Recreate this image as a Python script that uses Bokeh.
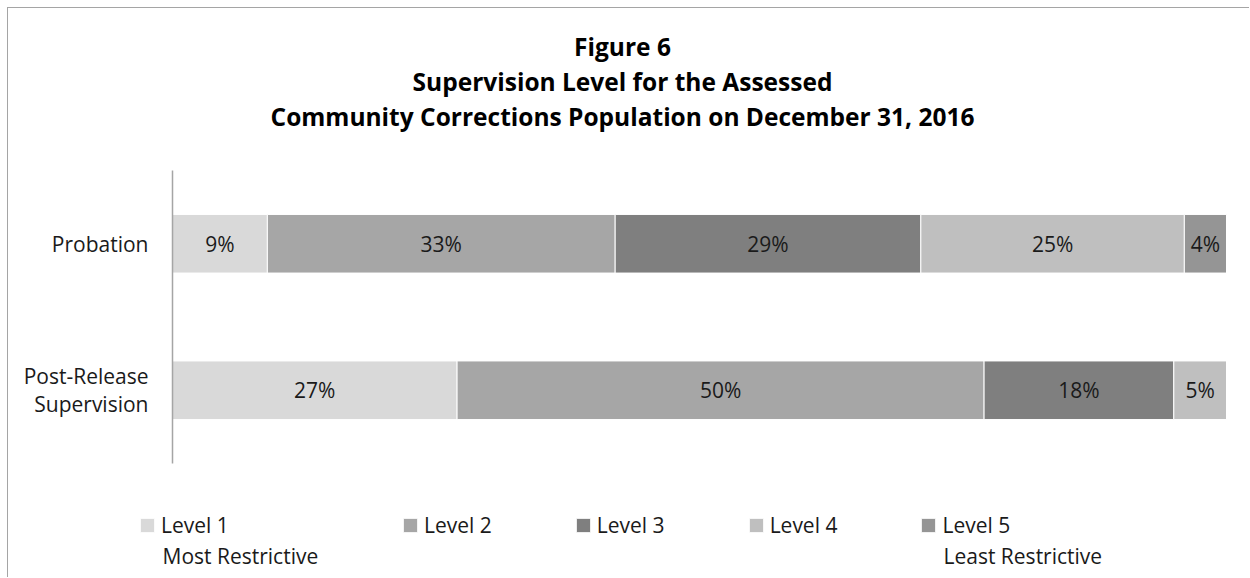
from bokeh.plotting import figure
from bokeh.models import (Range1d, Legend, LegendItem, Label, LinearAxis,
                          FixedTicker, ColumnDataSource)
from bokeh.embed import file_html
from bokeh.resources import INLINE
from bokeh.core.properties import value

# ---- data ----
groups = ["Post-Release\nSupervision", "Probation"]          # bottom -> top
levels = ["Level 1", "Level 2", "Level 3", "Level 4", "Level 5"]
level_notes = {"Level 1": "Most Restrictive", "Level 5": "Least Restrictive"}
post_release = [27, 50, 18, 5, 0]
probation = [9, 33, 29, 25, 4]
colors = ["#d9d9d9", "#a6a6a6", "#7f7f7f", "#bfbfbf", "#959595"]
title_lines = ["Figure 6",
               "Supervision Level for the Assessed",
               "Community Corrections Population on December 31, 2016"]

FONT = "Open Sans"
W, H = 1242, 570
AXIS_X, BAR_END = 164, 1218          # pixel columns of value 0 and 100
AXIS_TOP, AXIS_BOTTOM = 162, 455     # pixel rows of the category band
LEG_ROW = 517                        # pixel row of the legend's first line
LEG_ROW2 = 547                       # pixel row of the legend's second line

ncat = len(groups)
ypos = [i + 0.5 for i in range(ncat)]

pxu_x = (BAR_END - AXIS_X) / 100.0
pxu_y = (AXIS_BOTTOM - AXIS_TOP) / ncat
x_range = Range1d(-AXIS_X / pxu_x, 100 + (W - BAR_END) / pxu_x)
y_range = Range1d(-(H - AXIS_BOTTOM) / pxu_y, ncat + AXIS_TOP / pxu_y)

data = {"y": ypos}
for i, lv in enumerate(levels):
    data[lv] = [post_release[i], probation[i]]
source = ColumnDataSource(data)

p = figure(width=W, height=H, x_range=x_range, y_range=y_range,
           x_axis_location=None, y_axis_location=None,
           output_backend="svg", toolbar_location=None,
           min_border=0, min_border_left=0, min_border_right=0,
           min_border_top=0, min_border_bottom=0)
p.styles = {"margin-left": "7px", "margin-top": "7px",
            "border-left": "1px solid #a5a5a5", "border-top": "1px solid #a5a5a5"}
p.outline_line_color = None
p.grid.visible = False

renderers = p.hbar_stack(levels, y="y", height=0.4, color=colors, source=source,
                         line_color="white", line_width=1)

# percentage labels at segment centres
lx, ly, lt = [], [], []
for yy, vals in zip(ypos, [post_release, probation]):
    left = 0
    for v in vals:
        if v > 0:
            lx.append(left + v / 2)
            ly.append(yy)
            lt.append(f"{v}%")
        left += v
p.text(x=lx, y=ly, text=lt, text_align="center", text_baseline="middle",
       text_font=value(FONT), text_font_size="21px", text_color="#1a1a1a")

yax = LinearAxis(fixed_location=0, bounds=(0, ncat),
                 ticker=FixedTicker(ticks=ypos),
                 major_label_overrides={yy: g for yy, g in zip(ypos, groups)})
yax.axis_line_color = "#a5a5a5"
yax.axis_line_width = 1.5
yax.major_tick_line_color = None
yax.minor_tick_line_color = None
yax.major_tick_out = 0
yax.major_tick_in = 0
yax.major_label_standoff = 24
yax.major_label_text_font = FONT
yax.major_label_text_font_size = "21px"
yax.major_label_text_color = "#1a1a1a"
yax.major_label_text_line_height = 1.0
p.add_layout(yax, "left")

# titles (screen px measured from the bottom of the canvas)
for i, t in enumerate(title_lines):
    p.add_layout(Label(x=614, y=H - 38 - 35 * i, x_units="screen", y_units="screen",
                       text=t, text_align="center", text_baseline="middle",
                       text_font=FONT, text_font_style="bold", text_font_size="24.5px",
                       text_color="#000000"))

# legend: Level 1 item on its own (its note makes it wider), Levels 2-5 together
leg_kw = dict(orientation="horizontal", border_line_color=None,
              background_fill_alpha=0, padding=0, margin=0, label_standoff=5,
              glyph_width=18, glyph_height=18, label_text_font=FONT,
              label_text_font_size="21px", label_text_color="#1a1a1a")
items = [LegendItem(label=lv, renderers=[r]) for lv, r in zip(levels, renderers)]
leg_y = H - LEG_ROW - 14
p.add_layout(Legend(items=items[:1], location=(130, leg_y), **leg_kw), "center")
p.add_layout(Legend(items=items[1:], location=(393, leg_y), spacing=82, **leg_kw),
             "center")

note_x = {"Level 1": 154, "Level 5": 935}
for lv, note in level_notes.items():
    p.add_layout(Label(x=note_x[lv], y=H - LEG_ROW2, x_units="screen", y_units="screen",
                       text=note, text_align="left", text_baseline="middle",
                       text_font=FONT, text_font_size="21px", text_color="#1a1a1a"))

open("out.html", "w").write(file_html(p, INLINE))
